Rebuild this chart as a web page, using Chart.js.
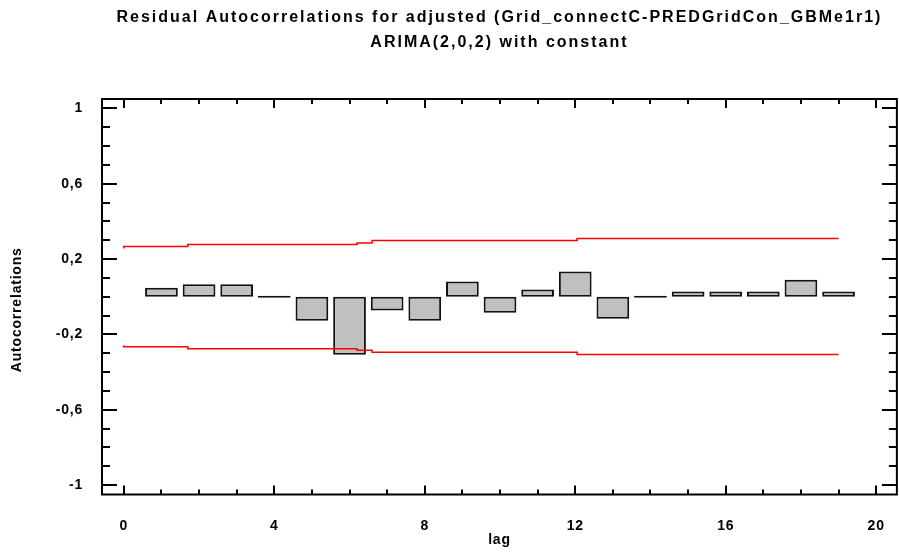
<!DOCTYPE html>
<html>
<head>
<meta charset="utf-8">
<title>Residual Autocorrelations</title>
<script src="https://cdn.jsdelivr.net/npm/chart.js@4.4.1/dist/chart.umd.min.js"></script>
<style>
    html, body { margin: 0; padding: 0; background: #fff; }
</style>
</head>
<body>
<canvas id="acfChart" width="899" height="555"></canvas>
<script>
// lags and residual autocorrelations
var lags = [1, 2, 3, 4, 5, 6, 7, 8, 9, 10, 11, 12, 13, 14, 15, 16, 17, 18, 19];
var autocorr = [0.048, 0.067, 0.067, 0.0, -0.127, -0.308, -0.073, -0.127, 0.081, -0.085,
                0.038, 0.134, -0.117, 0.0, 0.028, 0.028, 0.028, 0.090, 0.028];

// probability limits (they step up a little with the lag)
var limitLags = [0, 1.7, 6.2, 6.6, 12.05, 12.85, 19];
var upperLimits = [0.256, 0.267, 0.277, 0.286, 0.299, 0.309, 0.309];
var lowerLimits = [-0.258, -0.266, -0.276, -0.284, -0.295, -0.307, -0.307];

// tick labels
var xTickValues = [0, 4, 8, 12, 16, 20];
var yTickValues = [-1, -0.6, -0.2, 0.2, 0.6, 1];
var yTickLabels = ['-1', '-0,6', '-0,2', '0,2', '0,6', '1'];

var fontFamily = "'Liberation Sans', Arial, sans-serif";

// frame round the plot, with inward ticks on all four sides
var frameTicks = {
    id: 'frameTicks',
    afterLayout: function (chart) {
        var tb = chart.titleBlock;
        if (tb) {
            tb.left = chart.chartArea.left;
            tb.right = chart.chartArea.right;
            if (!tb._spaced) {
                var draw = tb.draw;
                tb.draw = function () {
                    chart.ctx.save();
                    chart.ctx.letterSpacing = '2px';
                    draw.apply(this, arguments);
                    chart.ctx.restore();
                };
                tb._spaced = true;
            }
        }
        var ys = chart.scales.y;
        if (ys && !ys._shifted) {
            // the y title sits a bit below the middle of the axis
            var drawTitle = ys.drawTitle;
            ys.drawTitle = function () {
                chart.ctx.save();
                chart.ctx.translate(0, 13);
                drawTitle.apply(this, arguments);
                chart.ctx.restore();
            };
            ys._shifted = true;
        }
    },
    beforeDraw: function (chart) {
        chart.ctx.letterSpacing = '0.8px';
    },
    afterDatasetsDraw: function (chart) {
        var ctx = chart.ctx;
        var a = chart.chartArea;
        var xs = chart.scales.x;
        var ys = chart.scales.y;
        ctx.save();
        ctx.strokeStyle = '#000';
        ctx.lineWidth = 2;
        ctx.beginPath();
        xs.ticks.forEach(function (t) {
            var px = Math.round(xs.getPixelForValue(t.value));
            var len = xTickValues.indexOf(t.value) >= 0 ? 9 : 5;
            ctx.moveTo(px, a.bottom); ctx.lineTo(px, a.bottom - len);
            ctx.moveTo(px, a.top); ctx.lineTo(px, a.top + len);
        });
        ys.ticks.forEach(function (t) {
            var py = Math.round(ys.getPixelForValue(t.value));
            var len = t.label ? 15 : 8;
            ctx.moveTo(a.left, py); ctx.lineTo(a.left + len, py);
            ctx.moveTo(a.right, py); ctx.lineTo(a.right - len, py);
        });
        ctx.stroke();
        ctx.strokeRect(a.left, a.top, a.right - a.left, a.bottom - a.top);
        ctx.restore();
    },
    afterDraw: function (chart) {
        chart.ctx.letterSpacing = '0px';
    }
};

var ctx = document.getElementById('acfChart');

new Chart(ctx, {
    type: 'bar',
    data: {
        datasets: [{
            type: 'line',
            label: 'upper limit',
            data: limitLags.map((x, i) => ({ x: x, y: upperLimits[i] })),
            borderColor: '#ff0000',
            borderWidth: 1.5,
            pointRadius: 0,
            stepped: 'after',
            fill: false,
            order: 0
        }, {
            type: 'line',
            label: 'lower limit',
            data: limitLags.map((x, i) => ({ x: x, y: lowerLimits[i] })),
            borderColor: '#ff0000',
            borderWidth: 1.5,
            pointRadius: 0,
            stepped: 'after',
            fill: false,
            order: 0
        }, {
            type: 'bar',
            label: 'Autocorrelations',
            data: lags.map((x, i) => ({ x: x, y: autocorr[i] })),
            backgroundColor: '#c0c0c0',
            borderColor: '#111',
            borderWidth: 2,
            borderSkipped: false,
            barPercentage: 0.87,
            categoryPercentage: 1,
            minBarLength: 2,
            order: 1
        }]
    },
    options: {
        responsive: false,
        animation: false,
        layout: {
            padding: { left: 0, right: 1, top: 0, bottom: 0 }
        },
        plugins: {
            legend: { display: false },
            tooltip: { enabled: false },
            title: {
                display: true,
                text: ['Residual Autocorrelations for adjusted (Grid_connectC-PREDGridCon_GBMe1r1)',
                       'ARIMA(2,0,2) with constant'],
                color: '#000',
                font: { family: fontFamily, size: 16, weight: 'bold', lineHeight: 1.55 },
                padding: { top: 5, bottom: 44.4 }
            }
        },
        scales: {
            x: {
                type: 'linear',
                min: -0.58,
                max: 20.55,
                offset: false,
                grid: { display: false, offset: false },
                border: { display: false },
                afterBuildTicks: function (scale) {
                    var t = [];
                    for (var v = 0; v <= 20; v++) t.push({ value: v });
                    scale.ticks = t;
                },
                afterFit: function (scale) { scale.height = 60.5; },
                ticks: {
                    autoSkip: false,
                    maxRotation: 0,
                    padding: 15,
                    color: '#000',
                    font: { family: fontFamily, size: 14, weight: 'bold' },
                    callback: function (v) {
                        return xTickValues.indexOf(v) >= 0 ? String(v) : '';
                    }
                },
                title: {
                    display: true,
                    text: 'lag',
                    color: '#000',
                    font: { family: fontFamily, size: 14, weight: 'bold' },
                    padding: { top: 0, bottom: 6 }
                }
            },
            y: {
                min: -1.05,
                max: 1.05,
                grid: { display: false },
                border: { display: false },
                afterBuildTicks: function (scale) {
                    var t = [];
                    for (var i = -10; i <= 10; i++) t.push({ value: i / 10 });
                    scale.ticks = t;
                },
                afterFit: function (scale) { scale.width = 102; },
                ticks: {
                    autoSkip: false,
                    padding: 11,
                    color: '#000',
                    font: { family: fontFamily, size: 14, weight: 'bold' },
                    callback: function (v) {
                        var k = yTickValues.indexOf(Math.round(v * 10) / 10);
                        return k >= 0 ? yTickLabels[k] : '';
                    }
                },
                title: {
                    display: true,
                    text: 'Autocorrelations',
                    color: '#000',
                    font: { family: fontFamily, size: 14, weight: 'bold' },
                    padding: { top: 9, bottom: 0 }
                }
            }
        }
    },
    plugins: [frameTicks]
});
</script>
</body>
</html>
